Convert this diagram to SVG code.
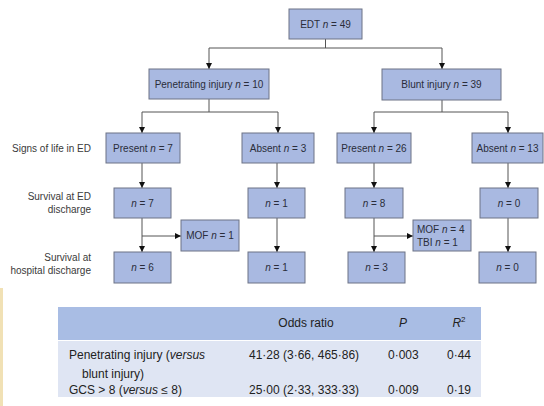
<svg xmlns="http://www.w3.org/2000/svg" width="544" height="406" viewBox="0 0 544 406">
<defs>
<style>
.box{fill:#a9b9e1;stroke:#6d7385;stroke-width:1}
.t{font-family:"Liberation Sans",Arial,sans-serif;font-size:10px;fill:#2a2d3a;text-anchor:middle}
.ts{font-family:"Liberation Sans",Arial,sans-serif;font-size:10px;fill:#2a2d3a;text-anchor:start}
.lbl{font-family:"Liberation Sans",Arial,sans-serif;font-size:10px;fill:#3a3a3a;text-anchor:end}
.ln{fill:none;stroke:#555;stroke-width:1}
.tb{font-family:"Liberation Sans",Arial,sans-serif;font-size:12px;fill:#222}
</style>
<marker id="ah" viewBox="0 0 8 8" refX="8" refY="4" markerWidth="6" markerHeight="6" orient="auto" markerUnits="userSpaceOnUse">
<path d="M0,0 L8,4 L0,8 z" fill="#111"/>
</marker>
</defs>
<rect width="544" height="406" fill="#fff"/>
<rect x="0" y="288" width="3" height="118" fill="#f1e1b5"/>

<g id="connectors">
<path class="ln" d="M325.5,39 V48 M209,48 H442"/>
<path class="ln" d="M209,48 V69" marker-end="url(#ah)"/>
<path class="ln" d="M442,48 V69" marker-end="url(#ah)"/>
<path class="ln" d="M209,99 V112 M142,112 H278"/>
<path class="ln" d="M142,112 V133" marker-end="url(#ah)"/>
<path class="ln" d="M278,112 V133" marker-end="url(#ah)"/>
<path class="ln" d="M442,100 V112 M374,112 H508"/>
<path class="ln" d="M374,112 V133" marker-end="url(#ah)"/>
<path class="ln" d="M508,112 V133" marker-end="url(#ah)"/>
<path class="ln" d="M142,163 V188" marker-end="url(#ah)"/>
<path class="ln" d="M142,218 V252" marker-end="url(#ah)"/>
<path class="ln" d="M142,236 H181" marker-end="url(#ah)"/>
<path class="ln" d="M277,163 V188" marker-end="url(#ah)"/>
<path class="ln" d="M277,218 V252" marker-end="url(#ah)"/>
<path class="ln" d="M374,163 V188" marker-end="url(#ah)"/>
<path class="ln" d="M374,218 V252" marker-end="url(#ah)"/>
<path class="ln" d="M374,236 H413" marker-end="url(#ah)"/>
<path class="ln" d="M508,163 V188" marker-end="url(#ah)"/>
<path class="ln" d="M508,218 V252" marker-end="url(#ah)"/>
</g>

<g id="edt"><rect class="box" x="289" y="9" width="73" height="30"/><text class="t" x="325.5" y="27.5">EDT <tspan font-style="italic">n</tspan> = 49</text></g>
<g id="penetrating"><rect class="box" x="149" y="69" width="120" height="30"/><text class="t" x="209" y="87.5">Penetrating injury <tspan font-style="italic">n</tspan> = 10</text></g>
<g id="blunt"><rect class="box" x="382" y="69" width="119" height="31"/><text class="t" x="441.5" y="88">Blunt injury <tspan font-style="italic">n</tspan> = 39</text></g>
<g id="present7"><rect class="box" x="106" y="133" width="74" height="30"/><text class="t" x="143" y="151.5">Present <tspan font-style="italic">n</tspan> = 7</text></g>
<g id="absent3"><rect class="box" x="242" y="133" width="72" height="30"/><text class="t" x="278" y="151.5">Absent <tspan font-style="italic">n</tspan> = 3</text></g>
<g id="present26"><rect class="box" x="337" y="133" width="74" height="30"/><text class="t" x="374" y="151.5">Present <tspan font-style="italic">n</tspan> = 26</text></g>
<g id="absent13"><rect class="box" x="472" y="133" width="71" height="30"/><text class="t" x="507.5" y="151.5">Absent <tspan font-style="italic">n</tspan> = 13</text></g>
<g id="ed7"><rect class="box" x="114" y="188" width="57" height="30"/><text class="t" x="142.5" y="206.5"><tspan font-style="italic">n</tspan> = 7</text></g>
<g id="ed1"><rect class="box" x="248" y="188" width="57" height="30"/><text class="t" x="276.5" y="206.5"><tspan font-style="italic">n</tspan> = 1</text></g>
<g id="ed8"><rect class="box" x="345" y="188" width="58" height="30"/><text class="t" x="374" y="206.5"><tspan font-style="italic">n</tspan> = 8</text></g>
<g id="ed0"><rect class="box" x="480" y="188" width="58" height="30"/><text class="t" x="509" y="206.5"><tspan font-style="italic">n</tspan> = 0</text></g>
<g id="mof1"><rect class="box" x="181" y="220" width="58" height="31"/><text class="t" x="210" y="239">MOF <tspan font-style="italic">n</tspan> = 1</text></g>
<g id="mof4"><rect class="box" x="413" y="220" width="58" height="31"/><text class="ts" x="417" y="233">MOF <tspan font-style="italic">n</tspan> = 4</text><text class="ts" x="417" y="246">TBI <tspan font-style="italic">n</tspan> = 1</text></g>
<g id="hd6"><rect class="box" x="114" y="252" width="57" height="31"/><text class="t" x="142.5" y="271"><tspan font-style="italic">n</tspan> = 6</text></g>
<g id="hd1"><rect class="box" x="248" y="252" width="57" height="31"/><text class="t" x="276.5" y="271"><tspan font-style="italic">n</tspan> = 1</text></g>
<g id="hd3"><rect class="box" x="348" y="252" width="57" height="31"/><text class="t" x="376.5" y="271"><tspan font-style="italic">n</tspan> = 3</text></g>
<g id="hd0"><rect class="box" x="479" y="252" width="57" height="31"/><text class="t" x="507.5" y="271"><tspan font-style="italic">n</tspan> = 0</text></g>

<g id="row-labels">
<text class="lbl" x="91" y="151.5">Signs of life in ED</text>
<text class="lbl" x="91" y="200">Survival at ED</text>
<text class="lbl" x="91" y="213">discharge</text>
<text class="lbl" x="91" y="261">Survival at</text>
<text class="lbl" x="91" y="274">hospital discharge</text>
</g>

<g id="table">
<rect x="58" y="307" width="423" height="33" fill="#a9bde4"/>
<rect x="58" y="341" width="423" height="56" fill="#dfe5f3"/>
<text class="tb" x="306" y="327" text-anchor="middle">Odds ratio</text>
<text class="tb" x="403" y="327" text-anchor="middle" font-style="italic">P</text>
<text class="tb" x="459" y="327" text-anchor="middle"><tspan font-style="italic">R</tspan><tspan font-size="8" dy="-5">2</tspan></text>
<text class="tb" x="69" y="359">Penetrating injury (<tspan font-style="italic">versus</tspan></text>
<text class="tb" x="82" y="378">blunt injury)</text>
<text class="tb" x="249" y="359">41·28 (3·66, 465·86)</text>
<text class="tb" x="388" y="359">0·003</text>
<text class="tb" x="447" y="359">0·44</text>
<text class="tb" x="69" y="394">GCS &gt; 8 (<tspan font-style="italic">versus</tspan> ≤ 8)</text>
<text class="tb" x="249" y="394">25·00 (2·33, 333·33)</text>
<text class="tb" x="388" y="394">0·009</text>
<text class="tb" x="447" y="394">0·19</text>
</g>
</svg>
